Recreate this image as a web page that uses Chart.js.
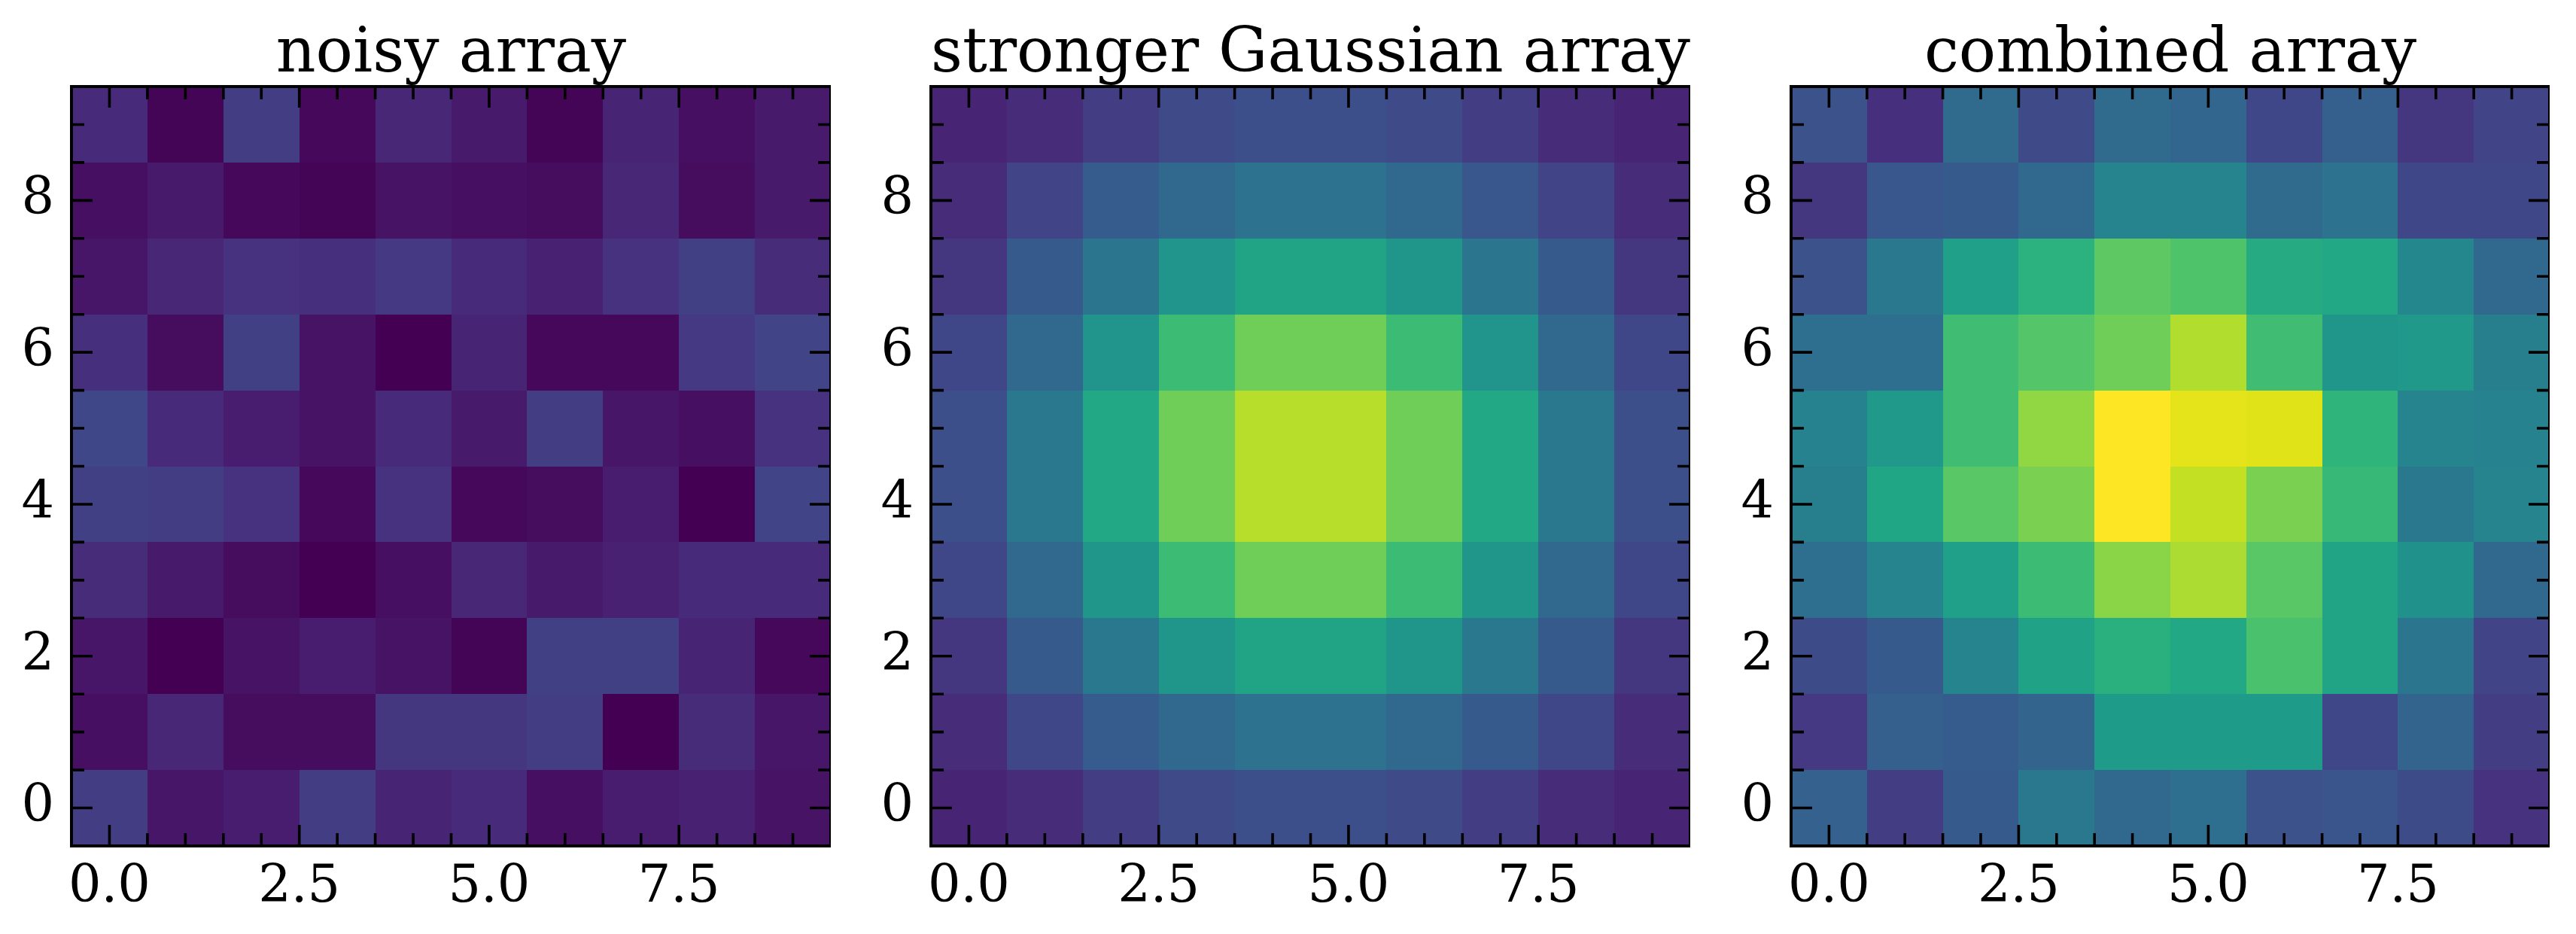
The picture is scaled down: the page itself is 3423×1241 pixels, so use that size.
<!DOCTYPE html>
<html><head><meta charset="utf-8">
<script src="https://cdn.jsdelivr.net/npm/chart.js@4.4.1/dist/chart.umd.min.js"></script>
<style>
html,body{margin:0;padding:0;background:#fff;}
body{width:3423px;height:1241px;position:relative;overflow:hidden;}
canvas{position:absolute;top:0;}
</style></head><body>
<canvas id="c0"></canvas><canvas id="c1"></canvas><canvas id="c2"></canvas>
<script>
// ---------------- DATA ----------------
const panelTitles = ["noisy array", "stronger Gaussian array", "combined array"];
const xCategories = [0, 1, 2, 3, 4, 5, 6, 7, 8, 9];
const yCategories = [0, 1, 2, 3, 4, 5, 6, 7, 8, 9];
const xTickValues = [0, 2.5, 5, 7.5];
const xTickLabels = ["0.0", "2.5", "5.0", "7.5"];
const yTickValues = [0, 2, 4, 6, 8];
const yTickLabels = ["0", "2", "4", "6", "8"];

// rows listed from y = 0 (bottom) to y = 9 (top)
const noisyArray = [
  [0.18, 0.06, 0.08, 0.18, 0.10, 0.12, 0.04, 0.08, 0.09, 0.05],
  [0.04, 0.11, 0.03, 0.03, 0.16, 0.16, 0.18, 0.00, 0.13, 0.06],
  [0.06, 0.00, 0.05, 0.08, 0.05, 0.01, 0.19, 0.19, 0.10, 0.02],
  [0.13, 0.07, 0.03, 0.00, 0.04, 0.11, 0.07, 0.09, 0.12, 0.12],
  [0.19, 0.18, 0.15, 0.02, 0.15, 0.02, 0.03, 0.08, 0.00, 0.20],
  [0.21, 0.12, 0.08, 0.05, 0.12, 0.07, 0.18, 0.06, 0.04, 0.15],
  [0.14, 0.03, 0.19, 0.05, 0.00, 0.10, 0.02, 0.02, 0.17, 0.20],
  [0.06, 0.11, 0.15, 0.14, 0.17, 0.12, 0.09, 0.15, 0.19, 0.13],
  [0.04, 0.07, 0.02, 0.01, 0.05, 0.04, 0.03, 0.11, 0.03, 0.07],
  [0.12, 0.01, 0.18, 0.02, 0.11, 0.07, 0.01, 0.10, 0.04, 0.07]
];
const gaussianArray = [
  [0.10, 0.13, 0.18, 0.22, 0.24, 0.24, 0.22, 0.18, 0.13, 0.10],
  [0.13, 0.21, 0.29, 0.35, 0.38, 0.38, 0.35, 0.28, 0.21, 0.13],
  [0.16, 0.28, 0.40, 0.52, 0.58, 0.58, 0.52, 0.40, 0.28, 0.16],
  [0.21, 0.35, 0.52, 0.68, 0.78, 0.78, 0.68, 0.52, 0.35, 0.21],
  [0.24, 0.40, 0.60, 0.78, 0.89, 0.89, 0.78, 0.60, 0.40, 0.24],
  [0.24, 0.40, 0.60, 0.78, 0.89, 0.89, 0.78, 0.60, 0.40, 0.24],
  [0.21, 0.35, 0.51, 0.68, 0.78, 0.78, 0.68, 0.51, 0.35, 0.21],
  [0.16, 0.28, 0.39, 0.51, 0.58, 0.58, 0.52, 0.39, 0.28, 0.16],
  [0.13, 0.20, 0.29, 0.35, 0.38, 0.38, 0.35, 0.27, 0.20, 0.13],
  [0.10, 0.13, 0.18, 0.22, 0.24, 0.24, 0.22, 0.18, 0.13, 0.10]
];
const combinedArray = [
  [0.31, 0.18, 0.28, 0.40, 0.35, 0.37, 0.25, 0.26, 0.23, 0.15],
  [0.17, 0.30, 0.29, 0.33, 0.54, 0.54, 0.54, 0.21, 0.33, 0.18],
  [0.23, 0.28, 0.45, 0.57, 0.63, 0.60, 0.71, 0.58, 0.39, 0.20],
  [0.37, 0.45, 0.56, 0.68, 0.82, 0.87, 0.74, 0.58, 0.50, 0.35],
  [0.43, 0.59, 0.74, 0.80, 1.00, 0.91, 0.80, 0.67, 0.40, 0.45],
  [0.44, 0.53, 0.69, 0.83, 1.00, 0.96, 0.95, 0.65, 0.45, 0.44],
  [0.37, 0.37, 0.69, 0.73, 0.78, 0.88, 0.69, 0.52, 0.53, 0.43],
  [0.25, 0.40, 0.56, 0.64, 0.75, 0.72, 0.61, 0.60, 0.46, 0.35],
  [0.16, 0.27, 0.28, 0.35, 0.45, 0.45, 0.36, 0.38, 0.21, 0.21],
  [0.25, 0.14, 0.36, 0.22, 0.36, 0.34, 0.21, 0.30, 0.16, 0.20]
];
const panelArrays = [noisyArray, gaussianArray, combinedArray];

// ---------------- STYLE ----------------
const VMIN = 0, VMAX = 1;
const viridisStops = ["#440154","#471365","#482475","#46327e","#414487","#3b528b","#355f8d","#31688e",
  "#2a788e","#25848e","#21918c","#1f9e89","#22a884","#2fb47c","#44bf70","#5ec962","#7ad151",
  "#a0da39","#bddf26","#dfe318","#fde725"];
function hexRgb(h){return [1,3,5].map(i=>parseInt(h.substr(i,2),16));}
const viridisRgb = viridisStops.map(hexRgb);
function viridis(v){
  let t = (v - VMIN) / (VMAX - VMIN);
  t = Math.max(0, Math.min(1, t));
  const f = t * (viridisRgb.length - 1);
  const i = Math.min(Math.floor(f), viridisRgb.length - 2);
  const r = f - i;
  const a = viridisRgb[i], b = viridisRgb[i+1];
  return `rgb(${Math.round(a[0]+(b[0]-a[0])*r)},${Math.round(a[1]+(b[1]-a[1])*r)},${Math.round(a[2]+(b[2]-a[2])*r)})`;
}

const FONT = "'DejaVu Serif', 'Liberation Serif', serif";
const plotLeft = [95, 1237, 2380];
const plotRight = [1104, 2246, 3388];
const Y_AXIS_W = 95;
const X_AXIS_H = 117;
const CANVAS_H = 1241;
const MAJOR_LEN = 28, MINOR_LEN = 17, MINOR_STEP = 0.5;
const SPINE_W = 4, TICK_W = 3.6;

const heatPlugin = {
  id: 'heat',
  beforeDatasetsDraw(chart) {
    const {ctx} = chart;
    const xs = chart.scales.x, ys = chart.scales.y;
    ctx.save();
    chart.data.datasets[0].data.forEach(p => {
      const x0 = Math.round(xs.getPixelForValue(p.x - 0.5));
      const x1 = Math.round(xs.getPixelForValue(p.x + 0.5));
      const y0 = Math.round(ys.getPixelForValue(p.y + 0.5));
      const y1 = Math.round(ys.getPixelForValue(p.y - 0.5));
      ctx.fillStyle = viridis(p.v);
      ctx.fillRect(x0, y0, x1 - x0, y1 - y0);
    });
    ctx.restore();
  },
  afterDatasetsDraw(chart) {
    const {ctx, chartArea: a} = chart;
    const xs = chart.scales.x, ys = chart.scales.y;
    ctx.save();
    ctx.strokeStyle = '#000';
    ctx.lineCap = 'butt';
    ctx.lineWidth = TICK_W;
    ctx.beginPath();
    const isMajX = v => xTickValues.some(t => Math.abs(t - v) < 1e-9);
    const isMajY = v => yTickValues.some(t => Math.abs(t - v) < 1e-9);
    for (let v = xs.min; v <= xs.max + 1e-9; v += MINOR_STEP) {
      const px = xs.getPixelForValue(v);
      const L = isMajX(v) ? MAJOR_LEN : MINOR_LEN;
      ctx.moveTo(px, a.bottom); ctx.lineTo(px, a.bottom - L);
      ctx.moveTo(px, a.top); ctx.lineTo(px, a.top + L);
    }
    for (let v = ys.min; v <= ys.max + 1e-9; v += MINOR_STEP) {
      const py = ys.getPixelForValue(v);
      const L = isMajY(v) ? MAJOR_LEN : MINOR_LEN;
      ctx.moveTo(a.left, py); ctx.lineTo(a.left + L, py);
      ctx.moveTo(a.right, py); ctx.lineTo(a.right - L, py);
    }
    ctx.stroke();
    ctx.lineWidth = SPINE_W;
    ctx.strokeRect(a.left, a.top, a.right - a.left, a.bottom - a.top);
    ctx.restore();
  }
};

panelTitles.forEach((title, k) => {
  const cv = document.getElementById('c' + k);
  const left = plotLeft[k] - Y_AXIS_W;
  const w = plotRight[k] - left;
  cv.width = w; cv.height = CANVAS_H;
  cv.style.left = left + 'px';
  cv.style.width = w + 'px'; cv.style.height = CANVAS_H + 'px';
  const arr = panelArrays[k];
  const cells = [];
  yCategories.forEach((yv, j) => xCategories.forEach((xv, i) => cells.push({x: xv, y: yv, v: arr[j][i]})));
  new Chart(cv, {
    type: 'scatter',
    data: {datasets: [{data: cells, pointRadius: 0, pointHoverRadius: 0, showLine: false}]},
    options: {
      responsive: false, animation: false, devicePixelRatio: 1,
      events: [],
      layout: {padding: {left: 0, right: 0, top: 0, bottom: 0}},
      plugins: {
        legend: {display: false}, tooltip: {enabled: false},
        title: {display: true, text: title, color: '#000', fullSize: false,
          font: {family: FONT, size: 82, weight: 'normal', lineHeight: 1},
          padding: {top: 33, bottom: 0}}
      },
      scales: {
        x: {type: 'linear', position: 'bottom', min: -0.5, max: 9.5,
          grid: {display: false}, border: {display: false},
          afterBuildTicks: s => { s.ticks = xTickValues.map(v => ({value: v})); },
          afterFit: s => { s.height = X_AXIS_H; },
          ticks: {color: '#000', font: {family: FONT, size: 68.5}, padding: 7, maxRotation: 0, autoSkip: false,
            callback: v => xTickLabels[xTickValues.indexOf(v)]}},
        y: {type: 'linear', position: 'left', min: -0.5, max: 9.5,
          grid: {display: false}, border: {display: false},
          afterBuildTicks: s => { s.ticks = yTickValues.map(v => ({value: v})); },
          afterFit: s => { s.width = Y_AXIS_W; },
          ticks: {color: '#000', font: {family: FONT, size: 68.5}, padding: 15, autoSkip: false,
            callback: v => yTickLabels[yTickValues.indexOf(v)]}}
      }
    },
    plugins: [heatPlugin]
  });
});
</script>
</body></html>
